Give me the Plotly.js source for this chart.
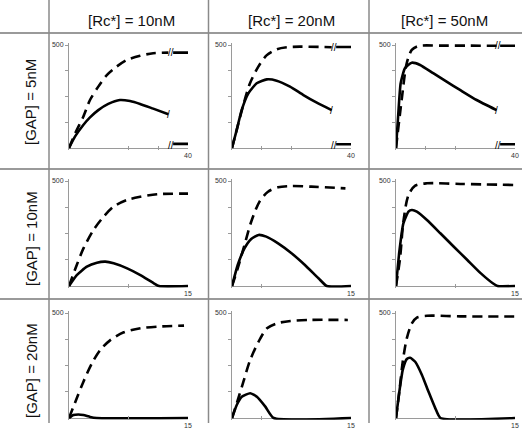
<!DOCTYPE html>
<html>
<head>
<meta charset="utf-8">
<script src="https://cdn.plot.ly/plotly-3.0.1.min.js"></script>
<style>html,body{margin:0;padding:0;background:#fff;}#chart{width:529px;height:428px;}</style>
</head>
<body>
<div id="chart"></div>
<script>
// ---------- DATA ----------
const rcLabels = ['[Rc*] = 10nM', '[Rc*] = 20nM', '[Rc*] = 50nM'];
const gapLabels = ['[GAP] = 5nM', '[GAP] = 10nM', '[GAP] = 20nM'];
const rowXMax = [40, 15, 15];
const yTickVals = [125, 250, 375, 500];
const yTickText = ['', '', '', '500'];

// Row 1 ([GAP] = 5nM), time 0-40 with axis break
const r1c1DashX = [0, 2.2, 4.8, 7.06, 9.85, 12.7, 16.0, 19.4, 23.9, 28.3, 33.4];
const r1c1DashY = [0, 75, 152, 233, 298, 354, 395, 427, 448, 460, 463];
const r1c1SolX = [0, 2.0, 4.8, 7.06, 9.85, 13.2, 17.1, 20.5, 23.9, 28.3, 33.4];
const r1c1SolY = [0, 55, 112, 149, 184, 214, 233, 228, 214, 191, 164];

const r1c2DashX = [0, 1.8, 3.8, 6.05, 8.85, 11.7, 15.0, 18.4, 22.9, 33.5];
const r1c2DashY = [0, 100, 209, 314, 395, 451, 479, 489, 492, 489];
const r1c2SolX = [0, 1.57, 3.25, 5.5, 8.3, 11.7, 15.0, 19.5, 24.0, 28.5, 33.5];
const r1c2SolY = [0, 87, 184, 265, 314, 333, 327, 298, 257, 220, 184];

const r1c3DashX = [0, 1.9, 3.6, 5.3, 7.5, 15, 25, 33.8];
const r1c3DashY = [0, 233, 411, 476, 495, 497, 497, 496];
const r1c3SolX = [0, 0.78, 1.57, 3.0, 5.3, 8.1, 12.5, 17.0, 21.5, 27.1, 33.8];
const r1c3SolY = [0, 168, 314, 387, 414, 403, 363, 322, 282, 233, 184];

// values after the axis break (t = 35..40)
const tailX = [35, 40];
const dashTailY = [463, 490, 496];
const solTailY = [20, 18, 18];

// Row 2 ([GAP] = 10nM), time 0-15
const r2c1DashX = [0, 0.98, 1.82, 3.09, 4.36, 5.63, 7.33, 9.0, 11.1, 15];
const r2c1DashY = [0, 100, 179, 267, 330, 378, 410, 425, 437, 440];
const r2c1SolX = [0, 0.98, 2.25, 3.52, 4.58, 5.63, 7.33, 9.0, 10.7, 11.35, 15];
const r2c1SolY = [0, 52, 92, 111, 116, 108, 84, 52, 13, 0, 0];

const r2c2DashX = [0, 0.72, 1.57, 2.42, 3.47, 4.54, 5.81, 7.5, 10.0, 14.3];
const r2c2DashY = [0, 84, 195, 306, 402, 449, 470, 476, 473, 465];
const r2c2SolX = [0, 0.72, 1.57, 2.42, 3.35, 4.32, 5.81, 7.5, 9.19, 10.9, 11.95, 15];
const r2c2SolY = [0, 100, 179, 224, 243, 235, 203, 156, 100, 37, 0, 0];

const r2c3DashX = [0, 0.51, 0.93, 1.57, 2.42, 3.9, 8.1, 14.9];
const r2c3DashY = [0, 132, 306, 433, 478, 489, 486, 481];
const r2c3SolX = [0, 0.42, 0.93, 1.57, 2.0, 2.63, 3.9, 5.59, 7.29, 8.99, 10.7, 12.2, 12.8, 15];
const r2c3SolY = [0, 163, 298, 354, 362, 354, 314, 251, 187, 124, 60, 13, 0, 0];

// Row 3 ([GAP] = 20nM), time 0-15
const r3c1DashX = [0, 0.98, 1.82, 2.88, 3.94, 5.21, 6.9, 9.0, 11.1, 14.5];
const r3c1DashY = [0, 94, 173, 260, 324, 371, 408, 427, 435, 440];
const r3c1SolX = [0, 0.55, 1.18, 1.82, 2.67, 3.5, 15];
const r3c1SolY = [0, 14, 17, 14, 5, 0, 0];

const r3c2DashX = [0, 0.8, 1.44, 2.29, 3.34, 4.41, 5.68, 7.37, 9.9, 14.6];
const r3c2DashY = [0, 94, 173, 276, 363, 427, 451, 462, 467, 467];
const r3c2SolX = [0, 0.6, 1.23, 2.29, 3.14, 4.2, 5.25, 15];
const r3c2SolY = [0, 62, 101, 118, 101, 54, 0, 0];

const r3c3DashX = [0, 0.42, 0.85, 1.36, 2.0, 2.63, 3.9, 8.1, 14.9];
const r3c3DashY = [0, 125, 268, 379, 451, 478, 487, 484, 483];
const r3c3SolX = [0, 0.42, 0.85, 1.36, 1.78, 2.42, 3.27, 4.1, 4.96, 5.6, 15];
const r3c3SolY = [0, 125, 229, 281, 287, 268, 205, 125, 46, 0, 0];

// x tick positions per panel
const xTicks = [
  [20, 30, 40], [10, 20, 40], [10, 20, 40],
  [7.5, 15], [3.75, 15], [7.5, 15],
  [7.5, 15], [3.75, 15], [7.5, 15]
];

const panels = [
  [r1c1DashX, r1c1DashY, r1c1SolX, r1c1SolY],
  [r1c2DashX, r1c2DashY, r1c2SolX, r1c2SolY],
  [r1c3DashX, r1c3DashY, r1c3SolX, r1c3SolY],
  [r2c1DashX, r2c1DashY, r2c1SolX, r2c1SolY],
  [r2c2DashX, r2c2DashY, r2c2SolX, r2c2SolY],
  [r2c3DashX, r2c3DashY, r2c3SolX, r2c3SolY],
  [r3c1DashX, r3c1DashY, r3c1SolX, r3c1SolY],
  [r3c2DashX, r3c2DashY, r3c2SolX, r3c2SolY],
  [r3c3DashX, r3c3DashY, r3c3SolX, r3c3SolY]
];

// ---------- LAYOUT GEOMETRY (pixels) ----------
const W = 529, H = 428;
const colPx = [[69, 188], [232, 351], [396, 515]];
const rowPx = [[45, 148], [181, 286], [313, 418]];
const yExt = 8; // data units of padding around 0..500
const axisGray = '#9a9a9a';
const font = '"Liberation Sans", Arial, Helvetica, sans-serif';

const traces = [];
const layout = {
  width: W, height: H,
  margin: {l: 0, r: 0, t: 0, b: 0},
  paper_bgcolor: '#fff', plot_bgcolor: 'rgba(0,0,0,0)',
  showlegend: false,
  font: {family: font, color: '#222'},
  annotations: [], shapes: []
};

for (let p = 0; p < 9; p++) {
  const r = Math.floor(p / 3), c = p % 3;
  const sfx = p === 0 ? '' : String(p + 1);
  const xa = 'x' + sfx, ya = 'y' + sfx;
  const [dx, dy, sx, sy] = panels[p];
  traces.push({x: dx, y: dy, xaxis: xa, yaxis: ya, mode: 'lines', hoverinfo: 'skip',
    line: {color: '#000', width: 2.6, dash: '10px,6px', shape: 'spline', smoothing: 0.8}});
  traces.push({x: sx, y: sy, xaxis: xa, yaxis: ya, mode: 'lines', hoverinfo: 'skip',
    line: {color: '#000', width: 2.6, shape: 'spline', smoothing: 0.5}});
  if (r === 0) {
    traces.push({x: tailX, y: [dashTailY[c], dashTailY[c]], xaxis: xa, yaxis: ya, mode: 'lines',
      hoverinfo: 'skip', line: {color: '#000', width: 2.6}});
    traces.push({x: tailX, y: [solTailY[c], solTailY[c]], xaxis: xa, yaxis: ya, mode: 'lines',
      hoverinfo: 'skip', line: {color: '#000', width: 2.6}});
    // break marks
    const bx = 34.2;
    layout.annotations.push({x: bx, y: dashTailY[c], xref: xa, yref: ya, text: '//', showarrow: false,
      font: {size: 10, color: '#000', family: font}});
    layout.annotations.push({x: bx, y: 12, xref: xa, yref: ya, text: '//', showarrow: false,
      font: {size: 10, color: '#000', family: font}});
    layout.annotations.push({x: sx[sx.length - 1], y: sy[sy.length - 1], xref: xa, yref: ya, text: '/',
      showarrow: false, font: {size: 10, color: '#000', family: font}});
  }
  const [x0, x1] = colPx[c];
  const [top, bot] = rowPx[r];
  const ppu = (bot - top) / 500;
  const xMax = rowXMax[r];
  const xt = xTicks[p];
  layout['xaxis' + sfx] = {
    domain: [x0 / W, x1 / W], range: [0, xMax], anchor: ya,
    showgrid: false, zeroline: false, showline: false,
    ticks: 'inside', ticklen: 4, tickcolor: axisGray, tickwidth: 1,
    tickvals: xt, ticktext: xt.map((v, i) => i === xt.length - 1 ? String(v) : ''),
    tickfont: {size: 7, color: '#333', family: font}, fixedrange: true
  };
  layout['yaxis' + sfx] = {
    domain: [1 - (bot + yExt * ppu) / H, 1 - (top - yExt * ppu) / H],
    range: [-yExt, 500 + yExt], anchor: xa,
    showgrid: false, zeroline: true, zerolinecolor: axisGray, zerolinewidth: 1,
    showline: true, linecolor: axisGray, linewidth: 1,
    ticks: 'outside', ticklen: 3, tickcolor: axisGray, tickwidth: 1,
    tickvals: yTickVals, ticktext: yTickText,
    tickfont: {size: 7, color: '#333', family: font}, fixedrange: true
  };
}

// table frame
const hLines = [33, 169, 299];
const vLines = [49, 208.5, 369];
hLines.forEach(y => layout.shapes.push({type: 'line', xref: 'paper', yref: 'paper',
  x0: 0, x1: 522 / W, y0: 1 - y / H, y1: 1 - y / H, line: {color: '#9a9a9a', width: 2}}));
vLines.forEach(x => layout.shapes.push({type: 'line', xref: 'paper', yref: 'paper',
  x0: x / W, x1: x / W, y0: 1 - 423 / H, y1: 1, line: {color: '#8a8a8a', width: 1.5}}));

// headers
const headerX = [131, 291, 444];
rcLabels.forEach((t, i) => layout.annotations.push({text: t, x: headerX[i] / W, y: 1 - 20 / H,
  xref: 'paper', yref: 'paper', xanchor: 'center', yanchor: 'middle', showarrow: false,
  font: {size: 15, color: '#111', family: font}}));
const rowLabelY = [102, 239, 371];
gapLabels.forEach((t, i) => layout.annotations.push({text: t, x: 31 / W, y: 1 - rowLabelY[i] / H,
  xref: 'paper', yref: 'paper', xanchor: 'center', yanchor: 'middle', textangle: -90, showarrow: false,
  font: {size: 15, color: '#111', family: font}}));

Plotly.newPlot('chart', traces, layout, {staticPlot: true, displayModeBar: false});
</script>
</body>
</html>
